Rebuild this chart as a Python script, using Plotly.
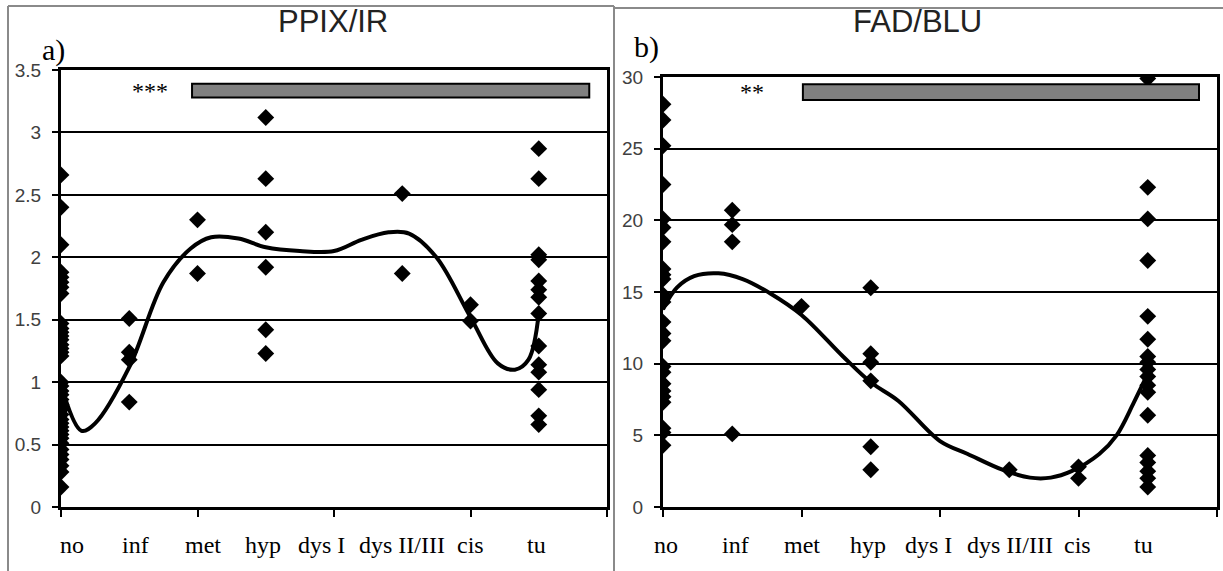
import plotly.graph_objects as go

# ---------------- data ----------------
categories = ["no", "inf", "met", "hyp", "dys I", "dys II/III", "cis", "tu"]

# Panel a: PPIX/IR  (category index -> values)
a_no = [2.66, 2.40, 2.10, 1.88, 1.84, 1.80, 1.76, 1.71, 1.47, 1.43, 1.40, 1.37, 1.34, 1.30,
        1.27, 1.24, 1.21, 1.00, 0.97, 0.93, 0.90, 0.86, 0.82, 0.78, 0.74, 0.70, 0.67, 0.64,
        0.61, 0.58, 0.55, 0.51, 0.46, 0.42, 0.38, 0.33, 0.28, 0.16]
a_inf = [1.51, 1.24, 1.18, 0.84]
a_met = [2.30, 1.87]
a_hyp = [3.12, 2.63, 2.20, 1.92, 1.42, 1.23]
a_dys1 = []
a_dys23 = [2.51, 1.87]
a_cis = [1.62, 1.49]
a_tu = [2.87, 2.63, 2.02, 1.98, 1.81, 1.74, 1.68, 1.55, 1.29, 1.14, 1.08, 0.94, 0.73, 0.66]

a_curve_x = [0, 0.3, 0.5, 1.0, 1.5, 1.9, 2.2, 2.6, 3.0, 3.5, 4.0, 4.4, 4.8, 5.1, 5.5, 6.0,
             6.4, 6.65, 6.85, 7.0]
a_curve_y = [0.98, 0.61, 0.67, 1.12, 1.80, 2.07, 2.16, 2.15, 2.08, 2.05, 2.05, 2.14, 2.20,
             2.19, 2.00, 1.52, 1.15, 1.10, 1.18, 1.55]

# Panel b: FAD/BLU
b_no = [28.1, 27.0, 25.2, 22.5, 20.1, 19.5, 18.5, 16.6, 16.2, 15.9, 14.8, 14.3, 12.9, 12.1,
        11.6, 9.8, 9.4, 8.6, 8.1, 7.7, 7.3, 5.5, 5.2, 4.3]
b_inf = [20.7, 19.7, 18.5, 5.1]
b_met = [14.0]
b_hyp = [15.3, 10.7, 10.1, 8.8, 4.2, 2.6]
b_dys1 = []
b_dys23 = [2.6]
b_cis = [2.8, 2.0]
b_tu = [29.9, 22.3, 20.1, 17.2, 13.3, 11.7, 10.5, 10.1, 9.6, 9.1, 8.5, 8.0, 6.4, 3.6, 3.1,
        2.5, 2.0, 1.4]

b_curve_x = [0, 0.2, 0.45, 0.8, 1.15, 1.55, 2.0, 2.6, 3.0, 3.4, 4.0, 4.4, 4.9, 5.3, 5.6,
             5.9, 6.3, 6.55, 6.8, 7.0]
b_curve_y = [13.8, 15.3, 16.1, 16.3, 15.9, 14.9, 13.4, 10.5, 8.7, 7.4, 4.6, 3.7, 2.6, 2.05,
             2.05, 2.5, 3.7, 5.0, 7.3, 9.3]

# significance bars: [x start, x end, y low, y high] and star labels
sig_a = [1.92, 7.74, 3.28, 3.39]
sig_b = [2.02, 7.74, 28.4, 29.5]
stars_a = "***"
stars_b = "**"

# ---------------- figure ----------------
W, H = 1223, 571
fig = go.Figure()

groups_a = [a_no, a_inf, a_met, a_hyp, a_dys1, a_dys23, a_cis, a_tu]
groups_b = [b_no, b_inf, b_met, b_hyp, b_dys1, b_dys23, b_cis, b_tu]

def add_panel(groups, cx, cy, xa, ya):
    xs, ys = [], []
    for i, g in enumerate(groups):
        xs += [i] * len(g)
        ys += g
    fig.add_trace(go.Scatter(x=cx, y=cy, mode="lines", xaxis=xa, yaxis=ya,
                             line=dict(color="black", width=4, shape="spline", smoothing=1.0),
                             hoverinfo="skip", showlegend=False))
    fig.add_trace(go.Scatter(x=xs, y=ys, mode="markers", xaxis=xa, yaxis=ya,
                             marker=dict(symbol="diamond", size=13, color="black"),
                             showlegend=False))

add_panel(groups_a, a_curve_x, a_curve_y, "x", "y")
add_panel(groups_b, b_curve_x, b_curve_y, "x2", "y2")

def px_x(p):
    return p / W

def px_y(p):
    return (H - p) / H

xcommon = dict(range=[0, 8], tickvals=[0, 2, 4, 6, 8], ticks="outside", ticklen=7,
               tickwidth=2, tickcolor="black", showticklabels=False, showgrid=False,
               zeroline=False, showline=True, linecolor="black", linewidth=3, mirror=True,
               automargin=False)
ycommon = dict(ticks="outside", ticklen=6, tickwidth=2, tickcolor="black", showgrid=True,
               gridcolor="black", gridwidth=2, zeroline=False, showline=True,
               linecolor="black", linewidth=3, mirror=True, automargin=False,
               ticklabelstandoff=7,
               tickfont=dict(family="Arial, Liberation Sans", size=19, color="#404040"))

fig.update_layout(
    width=W, height=H, margin=dict(l=0, r=0, t=0, b=0, pad=0, autoexpand=False),
    paper_bgcolor="white", plot_bgcolor="white", showlegend=False,
    xaxis=dict(domain=[px_x(61), px_x(607)], anchor="y", **xcommon),
    yaxis=dict(domain=[px_y(507), px_y(70)], anchor="x", range=[0, 3.5], dtick=0.5,
               tickvals=[0, 0.5, 1, 1.5, 2, 2.5, 3, 3.5],
               ticktext=["0", "0.5", "1", "1.5", "2", "2.5", "3", "3.5"], **ycommon),
    xaxis2=dict(domain=[px_x(663), px_x(1217)], anchor="y2", **xcommon),
    yaxis2=dict(domain=[px_y(507), px_y(77)], anchor="x2", range=[0, 30], dtick=5, **ycommon),
)

shapes = []
# significance bars
for sig, xr, yr in [(sig_a, "x", "y"), (sig_b, "x2", "y2")]:
    shapes.append(dict(type="rect", xref=xr, yref=yr, x0=sig[0], x1=sig[1], y0=sig[2], y1=sig[3],
                       fillcolor="#808080", line=dict(color="black", width=2), layer="above"))
# outer frames
shapes.append(dict(type="line", xref="paper", yref="paper", x0=px_x(8), x1=px_x(8),
                   y0=0, y1=px_y(6), line=dict(color="#8a8a8a", width=2)))
shapes.append(dict(type="line", xref="paper", yref="paper", x0=px_x(8), x1=px_x(614),
                   y0=px_y(6), y1=px_y(6), line=dict(color="#8a8a8a", width=2)))
shapes.append(dict(type="line", xref="paper", yref="paper", x0=px_x(614), x1=px_x(614),
                   y0=0, y1=px_y(6), line=dict(color="#8a8a8a", width=2)))
shapes.append(dict(type="line", xref="paper", yref="paper", x0=px_x(614), x1=1,
                   y0=px_y(8), y1=px_y(8), line=dict(color="#8a8a8a", width=2)))
fig.update_layout(shapes=shapes)

ann = []
serif = "Times New Roman, Liberation Serif, serif"
label_shift = [11, 6, 5, -3, -13, 0, 0, -2]
for xr, shifts in [("x", label_shift), ("x2", [3, 3, 1, -3, -11, 1, -1, -4])]:
    for i, lab in enumerate(categories):
        ann.append(dict(x=i, y=px_y(545), xref=xr, yref="paper", text=lab, showarrow=False,
                        xshift=shifts[i], font=dict(family=serif, size=24, color="black"),
                        xanchor="center", yanchor="middle"))
# titles
ann.append(dict(x=px_x(333), y=px_y(22), xref="paper", yref="paper", text="PPIX/IR",
                showarrow=False, xanchor="center", yanchor="middle",
                font=dict(family="Arial, Liberation Sans", size=31, color="#222")))
ann.append(dict(x=px_x(917), y=px_y(22), xref="paper", yref="paper", text="FAD/BLU",
                showarrow=False, xanchor="center", yanchor="middle",
                font=dict(family="Arial, Liberation Sans", size=31, color="#222")))
# panel letters
ann.append(dict(x=px_x(53), y=px_y(50), xref="paper", yref="paper", text="a)",
                showarrow=False, xanchor="center", yanchor="middle",
                font=dict(family=serif, size=30, color="black")))
ann.append(dict(x=px_x(646), y=px_y(47), xref="paper", yref="paper", text="b)",
                showarrow=False, xanchor="center", yanchor="middle",
                font=dict(family=serif, size=30, color="black")))
# stars
ann.append(dict(x=1.3, y=3.33, xref="x", yref="y", text=stars_a, showarrow=False,
                xanchor="center", yanchor="middle",
                font=dict(family=serif, size=24, color="black")))
ann.append(dict(x=1.29, y=28.95, xref="x2", yref="y2", text=stars_b, showarrow=False,
                xanchor="center", yanchor="middle",
                font=dict(family=serif, size=24, color="black")))
fig.update_layout(annotations=ann)

fig.write_html("out.html")
